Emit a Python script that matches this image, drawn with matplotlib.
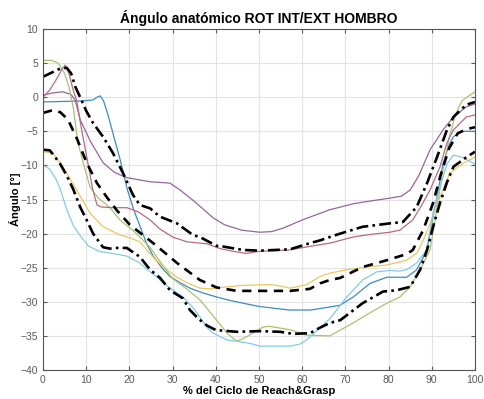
import matplotlib
matplotlib.use("Agg")
import matplotlib.pyplot as plt

plt.rcParams['font.family'] = ['Liberation Sans', 'DejaVu Sans']

# Individual trials (x = % of cycle, y = angle in degrees)
blue_x = [0, 3, 6, 9, 11.6, 12.5, 13.2, 14, 15, 16.2, 18, 19.5, 21, 22.5, 24, 25.5, 27.5, 29.4, 32, 34, 37, 40.2, 43.3,
          47, 50.2, 57, 62, 66, 68.8, 71.8, 75.7, 79.6, 84.2, 86.5, 88.9, 90, 91.2, 92.6, 94, 95, 97, 100]
blue_y = [-0.7, -0.65, -0.6, -0.55, -0.4, 0.0, 0.2, -0.5, -2.5, -5.3, -9.5, -13.5, -16.5, -19, -21.5, -23.3, -25,
          -26.3, -27.3, -28, -28.7, -29.3, -29.8, -30.3, -30.7, -31.2, -31.2, -30.8, -30.5, -29.3, -27.3, -26.4,
          -26.4, -25.3, -22.4, -18.5, -14.6, -9.7, -7, -5.8, -5.0, -5.0]

cyan_x = [0, 1.5, 3, 4, 5.5, 7, 8.6, 10.5, 13, 16, 19.4, 22.4, 24, 26.4, 29, 32.4, 34.5, 36.3, 38, 39.4, 42.6, 45,
          47.9, 50.2, 57.2, 59.5, 61, 64.1, 66.4, 70.3, 74, 77.3, 80.3, 82.5, 84.2, 86.5, 88.8, 90.3, 91.9, 93.5,
          95, 97, 100]
cyan_y = [-10, -10.5, -12, -13.5, -16.5, -18.8, -20.3, -21.8, -22.6, -22.9, -23.3, -24.3, -25.2, -26.4, -27.8,
          -29.3, -30.7, -32.2, -33.8, -34.6, -35.6, -35.8, -36.1, -36.5, -36.5, -36.2, -35.6, -33.8, -32.5, -29.3,
          -26.8, -25.6, -25.4, -25.5, -25.3, -24.3, -22.4, -17, -13.2, -9.8, -8.5, -8.8, -9.8]

yellow_x = [0, 2.3, 4.6, 7.8, 10.9, 13.9, 17.8, 20, 22.4, 24, 26, 28.7, 31, 33.3, 36.3, 39, 42.6, 46, 50.2, 53,
            55, 57.2, 61, 64.1, 66.4, 70.3, 75, 79.6, 84.2, 86.5, 88, 89.6, 91.9, 94.2, 97.2, 100]
yellow_y = [-8, -8.2, -10.2, -13.6, -17, -19, -20.2, -20.6, -21.2, -22.4, -23.8, -25.3, -26.4, -27.2, -28, -28.1,
            -27.8, -27.6, -27.5, -27.5, -27.7, -28, -27.5, -26.3, -25.8, -25.3, -24.9, -24.6, -23.9, -22.9, -21,
            -18.5, -14.6, -11.1, -9.7, -8.8]

purple_x = [0, 2, 4.6, 6.5, 7.5, 8.6, 11, 13.9, 16.5, 19.4, 24.8, 29.4, 31.7, 34.7, 39.4, 42, 46, 50.2, 53, 55.6,
            60, 66.4, 72, 76, 80.3, 83, 85, 87, 89.6, 92.6, 95, 98, 100]
purple_y = [0.3, 0.6, 0.8, 0.4, -0.5, -3.3, -6.5, -9.6, -11, -11.8, -12.4, -12.6, -13.6, -15.1, -17.7, -18.7, -19.5,
            -19.8, -19.7, -19.2, -18, -16.5, -15.6, -15.2, -14.8, -14.5, -13.6, -11.5, -7.7, -4.8, -2.9, -1.4, -1.0]

red_x = [0, 1.5, 3, 4.3, 5.1, 6, 7, 7.8, 9, 10.5, 11.5, 12.5, 13.5, 16, 19.4, 22, 24.8, 27, 30, 33.3, 38, 41, 44,
         47, 50, 57, 63.4, 66.4, 71.8, 76, 80.3, 82.6, 85.6, 87.5, 89.6, 91.9, 93.5, 95, 98, 100]
red_y = [0.0, 1.0, 2.5, 4.0, 4.7, 3.5, 1.0, -0.5, -5, -10, -13.5, -15.8, -16.1, -16.2, -16.2, -16.8, -18, -19.3,
         -20.5, -21.2, -21.5, -22.2, -22.6, -22.9, -22.6, -22.4, -21.7, -21.4, -20.5, -20.1, -19.8, -19.5, -18, -16,
         -13.6, -10.2, -6.7, -4.8, -2.9, -2.6]

green_x = [0, 2, 3.5, 5, 6, 7, 8.1, 9.3, 10.9, 12.8, 15.5, 17.8, 20.8, 24.8, 26.4, 30, 33, 36.3, 40.2, 42.6, 44.9,
           47.2, 50.9, 52.5, 57.2, 61, 66.4, 71.8, 76, 79.6, 82.6, 85, 87.3, 89.6, 91, 92.5, 94, 95.5, 97, 100]
green_y = [5.4, 5.4, 5.0, 3.5, 1.5, -1.5, -6.7, -9.6, -13.2, -14.8, -16.2, -18, -19.5, -22, -23.5, -26.6, -28,
           -29.7, -32.7, -34.6, -35.8, -35.1, -33.7, -33.6, -34.1, -34.9, -35, -33.1, -31.5, -30.2, -29.3, -27.8,
           -25.3, -22.4, -17, -11, -6, -2.5, -0.5, 0.8]

# Mean and mean +/- standard deviation
upper_x = [0, 2, 4, 5.5, 6.5, 7.5, 8.6, 10, 11.6, 13.9, 16.2, 18.5, 20.8, 22.4, 24.8, 27, 31, 34.7, 36.3, 40.2,
           41.7, 46.3, 50.2, 57.2, 61.8, 64.1, 66.4, 68.8, 74, 80.3, 83.3, 86.5, 88.9, 91.2, 93.5, 95, 98, 100]
upper_y = [3.0, 3.6, 4.2, 4.3, 3.5, 1.5, 0.0, -2.0, -3.8, -5.8, -8.2, -11.1, -14.3, -15.8, -16.3, -17.5, -18.5,
           -20.2, -20.5, -21.8, -21.9, -22.4, -22.5, -22.3, -21.4, -21.0, -20.5, -20.0, -19.0, -18.5, -18.3, -16.1,
           -12.6, -8.8, -4.8, -2.9, -1.1, -0.7]

mean_x = [0, 2.3, 4, 5.8, 7.8, 10.1, 12.5, 14.7, 17.1, 20.1, 23.1, 26.3, 31, 36.3, 40.2, 44.9, 50.2, 57.2, 61.8,
          64.1, 66.4, 68.8, 74, 79.6, 84.2, 85.6, 88, 90.3, 92, 94, 96, 98, 100]
mean_y = [-2.3, -1.9, -2.2, -3.3, -6.0, -9.6, -12.6, -14.6, -16.6, -18.7, -20.2, -21.8, -24.3, -26.8, -27.9, -28.4,
          -28.4, -28.4, -28.1, -27.3, -26.8, -26.5, -24.9, -23.9, -23.0, -22.4, -19.5, -15.5, -11.5, -7.5, -5.3,
          -4.7, -4.4]

lower_x = [0, 1.6, 3.9, 5.5, 7, 8.6, 10.1, 11.6, 13.9, 15.5, 17.1, 19.4, 22.4, 24.8, 27.1, 29.4, 32.4, 34, 36, 38,
           40.2, 41, 44.9, 50.2, 54.9, 57.9, 61.8, 64.1, 66.4, 68.8, 74, 78.7, 81.9, 85, 87.3, 88.9, 90.3, 91.9,
           93.5, 95, 98, 100]
lower_y = [-7.7, -7.8, -9.7, -11.5, -13.5, -16.1, -18, -20, -22, -22.2, -22.1, -22.1, -23.4, -25.3, -26.5, -28.3,
           -29.5, -31.2, -32.5, -33.5, -34.2, -34.2, -34.4, -34.3, -34.4, -34.7, -34.6, -33.8, -33.1, -32.7, -30.2,
           -28.5, -28.3, -27.8, -25.3, -22.4, -19, -15.5, -12.5, -10.2, -8.8, -8.0]

x_ticks = list(range(0, 101, 10))
y_ticks = list(range(-40, 11, 5))

fig = plt.figure(figsize=(4.84, 3.99), dpi=100)
ax = fig.add_axes([43 / 484, 1 - 370 / 399, 432 / 484, 341 / 399])

trial_lw = 0.9
ax.plot(blue_x, blue_y, color='#3b8cc4', lw=trial_lw)
ax.plot(yellow_x, yellow_y, color='#eec660', lw=trial_lw)
ax.plot(purple_x, purple_y, color='#98639f', lw=trial_lw)
ax.plot(green_x, green_y, color='#a6c46e', lw=trial_lw)
ax.plot(cyan_x, cyan_y, color='#82cbe8', lw=trial_lw)
ax.plot(red_x, red_y, color='#b56a85', lw=trial_lw)

ax.plot(upper_x, upper_y, color='black', lw=1.9, linestyle=(0, (4.5, 1.6, 1.0, 1.6)))
ax.plot(mean_x, mean_y, color='black', lw=1.9, linestyle=(0, (3.5, 2.5)))
ax.plot(lower_x, lower_y, color='black', lw=1.9, linestyle=(0, (4.5, 1.6, 1.0, 1.6)))

ax.set_xlim(0, 100)
ax.set_ylim(-40, 10)
ax.set_xticks(x_ticks)
ax.set_yticks(y_ticks)
ax.grid(True, color='#e3e3e3', lw=0.8)
ax.set_axisbelow(True)
ax.tick_params(direction='in', length=3, width=0.8, colors='#5a5a5a', labelsize=7.5,
               top=True, right=True, labelcolor='#5a5a5a')
for sp in ax.spines.values():
    sp.set_color('#555555')
    sp.set_linewidth(0.8)

ax.set_title('Ángulo anatómico ROT INT/EXT HOMBRO', fontsize=10, fontweight='bold', pad=4)
ax.set_xlabel('% del Ciclo de Reach&Grasp', fontsize=8, fontweight='bold', labelpad=1)
ax.set_ylabel('Ángulo [°]', fontsize=8, fontweight='bold', labelpad=0)

fig.savefig('out.png', dpi=100)
